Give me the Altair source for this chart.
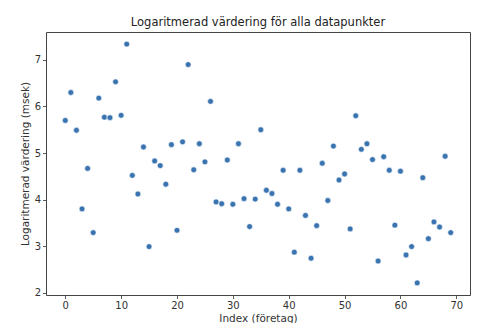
import altair as alt
import pandas as pd

index = list(range(70))
values = [5.70, 6.30, 5.49, 3.80, 4.67, 3.29, 6.18, 5.77, 5.76, 6.53,
          5.81, 7.34, 4.52, 4.12, 5.13, 2.99, 4.83, 4.73, 4.33, 5.18,
          3.34, 5.24, 6.90, 4.64, 5.20, 4.81, 6.11, 3.95, 3.91, 4.85,
          3.90, 5.20, 4.02, 3.42, 4.01, 5.50, 4.20, 4.13, 3.90, 4.63,
          3.80, 2.87, 4.63, 3.66, 2.74, 3.44, 4.78, 3.98, 5.15, 4.42,
          4.55, 3.37, 5.80, 5.08, 5.20, 4.86, 2.68, 4.92, 4.63, 3.45,
          4.61, 2.81, 2.99, 2.21, 4.47, 3.16, 3.52, 3.41, 4.93, 3.29]

df = pd.DataFrame({"idx": index, "val": values})

font = "DejaVu Sans"

chart = alt.Chart(df).mark_circle(
    size=34, color="#3a74b0", opacity=1, stroke="white", strokeWidth=0.6
).encode(
    x=alt.X("idx:Q", title="Index (företag)",
            scale=alt.Scale(domain=[-3.45, 72.45], nice=False, zero=False),
            axis=alt.Axis(values=[0, 10, 20, 30, 40, 50, 60, 70], grid=False,
                          format="d", labelFlush=False)),
    y=alt.Y("val:Q", title="Logaritmerad värdering (msek)",
            scale=alt.Scale(domain=[1.95, 7.6], nice=False, zero=False),
            axis=alt.Axis(values=[2, 3, 4, 5, 6, 7], grid=False, format="d",
                          labelFlush=False)),
).properties(
    width=424, height=263,
    title=alt.Title("Logaritmerad värdering för alla datapunkter",
                    font=font, fontSize=11.5, fontWeight="normal",
                    color="#222", offset=4),
    autosize=alt.AutoSizeParams(type="none"),
    padding={"left": 46, "top": 32, "right": 9, "bottom": 28},
).configure_view(
    stroke="#444", strokeWidth=1
).configure_axis(
    domain=False, tickColor="#333", tickSize=3.5, tickWidth=0.8,
    labelFont=font, labelFontSize=10, labelColor="#333", labelPadding=2,
    titleFont=font, titleFontSize=10.5, titleFontWeight="normal",
    titleColor="#333"
).configure_axisY(
    titlePadding=4
).configure_axisX(
    titlePadding=3
)

chart.save("out.html", embed_options={"renderer": "svg", "actions": False})
